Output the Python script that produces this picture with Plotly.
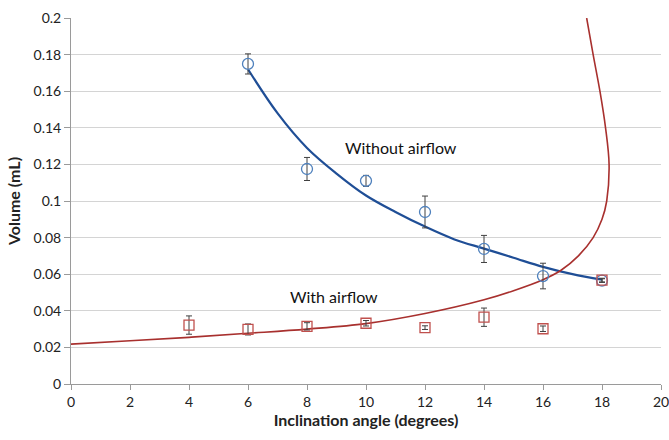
import plotly.graph_objects as go

# Measured points
without_x = [6, 8, 10, 12, 14, 16, 18]
without_y = [0.1749, 0.1175, 0.111, 0.094, 0.0738, 0.059, 0.0565]
without_err = [0.0055, 0.0063, 0.003, 0.0087, 0.0074, 0.007, 0.001]
with_x = [4, 6, 8, 10, 12, 14, 16, 18]
with_y = [0.0322, 0.0298, 0.0315, 0.0332, 0.0308, 0.0365, 0.0302, 0.0568]
with_err = [0.005, 0.003, 0.002, 0.0015, 0.001, 0.005, 0.0015, 0.001]

# Trend lines
trend_without_x = [6, 7, 8, 9, 10, 11, 12, 13, 14, 15, 16, 17, 18]
trend_without_y = [0.172, 0.148, 0.129, 0.115, 0.103, 0.094, 0.086, 0.079, 0.074, 0.069, 0.064, 0.060, 0.057]
trend_with_x = [0, 2, 4, 6, 8, 10, 12, 14, 15, 16, 16.6, 17.2, 17.7, 18.0, 18.16, 18.24, 18.12, 17.93, 17.7, 17.48]
trend_with_y = [0.0218, 0.0236, 0.0255, 0.0277, 0.030, 0.033, 0.0385, 0.046, 0.051, 0.057, 0.062, 0.070, 0.080, 0.090, 0.100, 0.120, 0.140, 0.160, 0.180, 0.200]

BLUE = "#4F81BD"
RED = "#C0504D"
FONT = "Lato"

fig = go.Figure()
fig.add_trace(go.Scatter(x=trend_without_x, y=trend_without_y, mode="lines",
                         line=dict(color="#1F4E96", width=2.2, shape="spline"), hoverinfo="skip"))
fig.add_trace(go.Scatter(x=trend_with_x, y=trend_with_y, mode="lines",
                         line=dict(color="#A8302E", width=1.6, shape="spline"), hoverinfo="skip"))
fig.add_trace(go.Scatter(x=without_x, y=without_y, mode="markers",
                         marker=dict(symbol="circle-open", size=11, color=BLUE, line=dict(width=1.3)),
                         error_y=dict(type="data", array=without_err, color="#404040", thickness=1, width=3)))
fig.add_trace(go.Scatter(x=with_x, y=with_y, mode="markers",
                         marker=dict(symbol="square-open", size=10, color=RED, line=dict(width=1.3)),
                         error_y=dict(type="data", array=with_err, color="#404040", thickness=1, width=3)))

fig.add_annotation(x=11.2, y=0.1295, text="Without airflow", showarrow=False,
                   font=dict(family=FONT, size=16, color="#111111"))
fig.add_annotation(x=8.9, y=0.048, text="With airflow", showarrow=False,
                   font=dict(family=FONT, size=16, color="#111111"))

fig.update_layout(
    width=669, height=440,
    margin=dict(l=71, r=8, t=18, b=56),
    plot_bgcolor="white", paper_bgcolor="white",
    showlegend=False,
    font=dict(family=FONT, size=14, color="#222222"),
)
fig.update_xaxes(range=[0, 20], dtick=2, tick0=0, showgrid=False, zeroline=False,
                 showline=True, linecolor="#9A9A9A", linewidth=1, automargin=False,
                 ticklabeloverflow="allow",
                 ticks="outside", ticklen=5, tickcolor="#9A9A9A",
                 title=dict(text="<b>Inclination angle (degrees)</b>", font=dict(size=16), standoff=6))
fig.update_yaxes(range=[0, 0.2], dtick=0.02, tick0=0, showgrid=True, gridcolor="#D4D4D4", gridwidth=1,
                 zeroline=False, showline=True, linecolor="#9A9A9A", linewidth=1, automargin=False,
                 ticklabeloverflow="allow",
                 ticks="outside", ticklen=6, tickcolor="#9A9A9A", tickformat="~g",
                 title=dict(text="<b>Volume (mL)</b>", font=dict(size=16), standoff=8))

fig.write_html("out.html")
